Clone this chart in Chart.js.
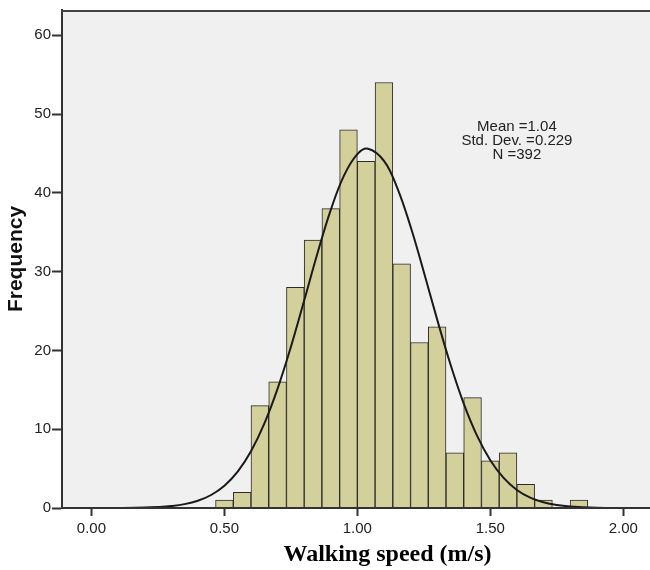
<!DOCTYPE html>
<html lang="en">
<head>
<meta charset="UTF-8" />
<title>Walking speed histogram</title>
<script src="https://cdn.jsdelivr.net/npm/chart.js"></script>
<style>
  body { margin: 0; background: #fff; }
  #wrap { width: 650px; height: 570px; overflow: hidden; }
</style>
</head>
<body>
<div id="wrap"><canvas id="hist" width="714" height="570"></canvas></div>
<script>
  // histogram bins (centres, m/s) and counts
  const binCenters = [0.5, 0.5667, 0.6333, 0.7, 0.7667, 0.8333, 0.9, 0.9667, 1.0333, 1.1,
                      1.1667, 1.2333, 1.3, 1.3667, 1.4333, 1.5, 1.5667, 1.6333, 1.7, 1.7667, 1.8333];
  const counts = [1, 2, 13, 16, 28, 34, 38, 48, 44, 54, 31, 21, 23, 7, 14, 6, 7, 3, 1, 0, 1];

  // fitted normal curve
  const curveX = [-0.2, 0.0, 0.1, 0.2, 0.25, 0.3, 0.35, 0.4, 0.45, 0.5, 0.55, 0.6, 0.65, 0.7, 0.75,
                  0.8, 0.85, 0.9, 0.95, 1.0, 1.04, 1.1, 1.15, 1.2, 1.25, 1.3, 1.35, 1.4, 1.45,
                  1.5, 1.55, 1.6, 1.65, 1.7, 1.75, 1.8, 1.9, 2.0, 2.1, 2.4];
  const curveY = [0, 0, 0.01, 0.05, 0.12, 0.25, 0.49, 0.92, 1.65, 2.83, 4.62, 7.2, 10.7, 15.15, 20.45,
                  26.33, 32.32, 37.83, 42.21, 44.91, 45.6, 44.06, 40.63, 35.72, 29.95, 23.94, 18.24, 13.25, 9.18,
                  6.06, 3.82, 2.29, 1.31, 0.72, 0.37, 0.19, 0.04, 0.01, 0, 0];

  const xTicks = [0, 0.5, 1, 1.5, 2];
  const yTicks = [0, 10, 20, 30, 40, 50, 60];
  const statsLines = ['Mean =1.04', 'Std. Dev. =0.229', 'N =392'];
  const xLabel = 'Walking speed (m/s)';
  const yLabel = 'Frequency';

  const tickFont = { family: 'Arial, "Liberation Sans", sans-serif', size: 15 };

  const plotFrame = {
    id: 'plotFrame',
    beforeDraw(chart) {
      const { ctx, chartArea: a } = chart;
      ctx.save();
      ctx.fillStyle = '#f0f0f0';
      ctx.fillRect(a.left, a.top, a.right - a.left, a.bottom - a.top);
      ctx.restore();
    },
    afterDraw(chart) {
      const { ctx, chartArea: a, scales } = chart;
      ctx.save();
      ctx.strokeStyle = '#444';
      ctx.lineWidth = 2;
      ctx.beginPath();
      ctx.moveTo(a.left - 1, a.top + 1);
      ctx.lineTo(a.right, a.top + 1);
      ctx.lineTo(a.right, a.bottom);
      ctx.stroke();

      // summary statistics box
      ctx.fillStyle = '#222';
      ctx.font = '15px Arial, "Liberation Sans", sans-serif';
      ctx.textAlign = 'center';
      ctx.textBaseline = 'middle';
      const cx = scales.x.getPixelForValue(1.6);
      const cy = scales.y.getPixelForValue(48.4);
      statsLines.forEach((t, i) => ctx.fillText(t, cx, cy + i * 14));
      ctx.restore();
    }
  };

  new Chart(document.getElementById('hist'), {
    type: 'bar',
    data: {
      datasets: [
        {
          type: 'line',
          data: curveX.map((x, i) => ({ x: x, y: curveY[i] })),
          borderColor: '#1a1a1a',
          borderWidth: 2,
          pointRadius: 0,
          tension: 0.4,
          fill: false,
          order: 0
        },
        {
          type: 'bar',
          data: binCenters.map((x, i) => ({ x: x, y: counts[i] })),
          backgroundColor: '#d4d09b',
          borderColor: '#2a2a2a',
          borderWidth: 1,
          barPercentage: 1,
          categoryPercentage: 1,
          order: 1
        }
      ]
    },
    options: {
      responsive: false,
      animation: false,
      layout: { padding: { top: 8, right: 1, left: 0, bottom: 0 } },
      plugins: { legend: { display: false }, tooltip: { enabled: false } },
      scales: {
        x: {
          type: 'linear',
          position: 'bottom',
          min: -0.1108,
          max: 2.3375,
          offset: false,
          grid: { offset: false, drawOnChartArea: false, tickLength: 8, tickWidth: 2, tickColor: '#333' },
          border: { color: '#333', width: 2, z: 1 },
          afterBuildTicks: s => { s.ticks = xTicks.map(v => ({ value: v })); },
          afterFit: s => { s.height = 62; },
          ticks: {
            font: tickFont, color: '#222', padding: 4, maxRotation: 0, autoSkip: false,
            callback: v => Number(v).toFixed(2)
          },
          title: {
            display: true, text: xLabel, color: '#000',
            font: { family: '"Times New Roman", "Liberation Serif", serif', size: 24, weight: 'bold' },
            padding: { top: 0, bottom: 1 }
          }
        },
        y: {
          min: 0,
          max: 63.2,
          grid: { drawOnChartArea: false, tickLength: 10, tickWidth: 2, tickColor: '#333' },
          border: { color: '#333', width: 2, z: 1 },
          afterBuildTicks: s => { s.ticks = yTicks.map(v => ({ value: v })); },
          afterFit: s => { s.width = 62; },
          ticks: { font: tickFont, color: '#222', padding: 1, autoSkip: false },
          title: {
            display: true, text: yLabel, color: '#111',
            font: { family: 'Arial, "Liberation Sans", sans-serif', size: 21, weight: 'bold' },
            padding: { top: 4, bottom: 0 }
          }
        }
      }
    },
    plugins: [plotFrame]
  });
</script>
</body>
</html>
